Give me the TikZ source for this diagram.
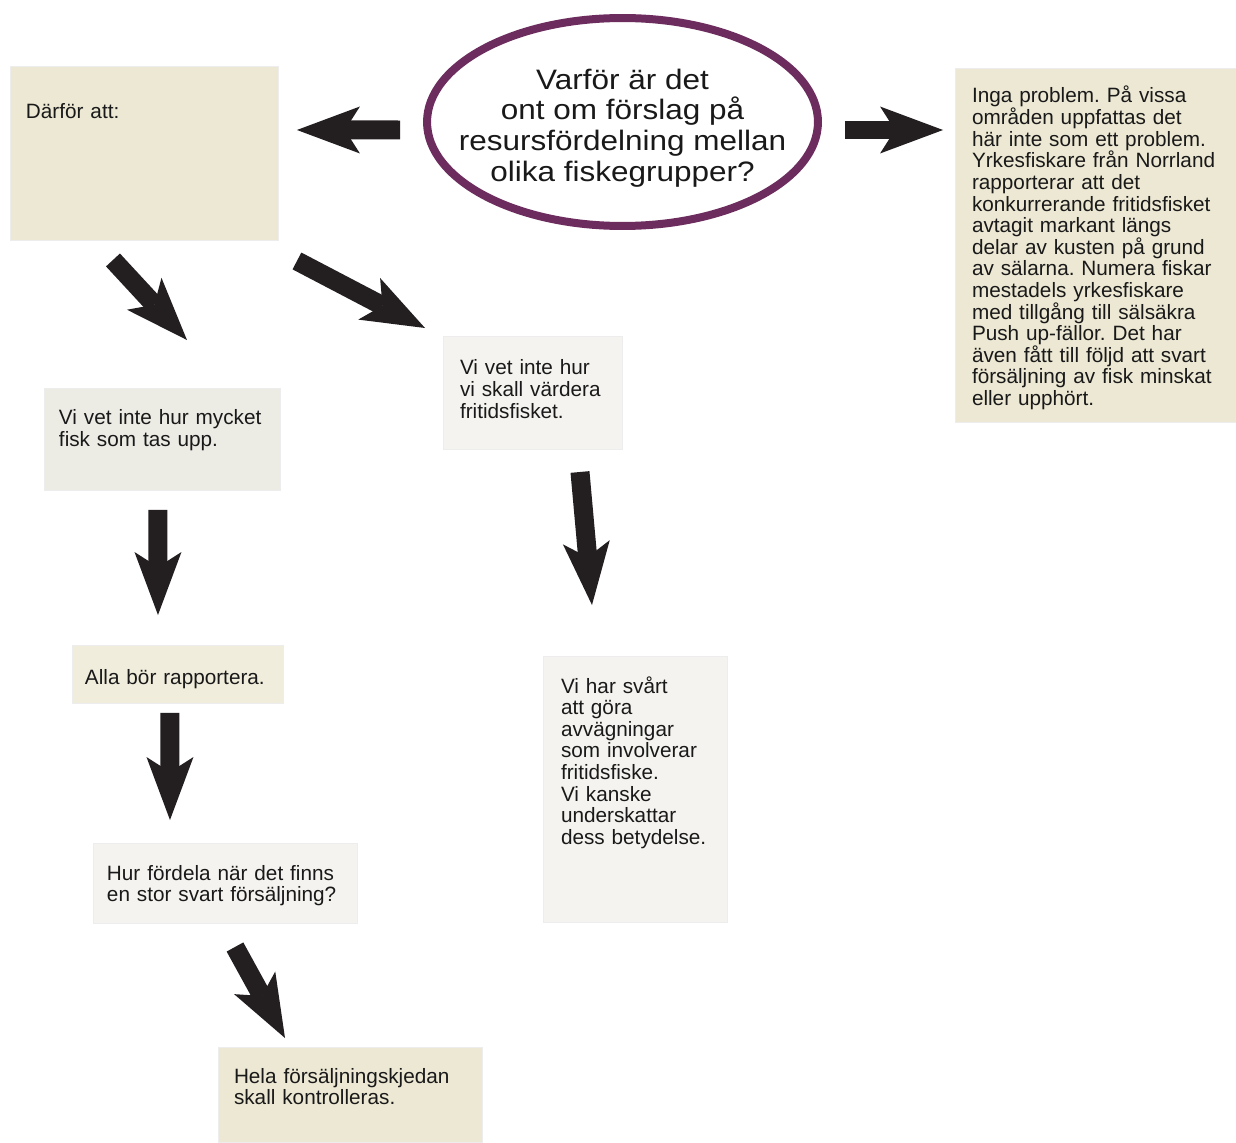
\documentclass[tikz,border=0pt]{standalone}
\usepackage{fontspec}
\setmainfont{Liberation Sans}
\newfontfamily\askfont[FakeStretch=1.12]{Liberation Sans}
\usetikzlibrary{calc,arrows.meta,shapes.geometric}
\definecolor{fiskInk}{RGB}{35,31,32}
\definecolor{fiskPlum}{RGB}{108,44,94}
\definecolor{fiskSand}{RGB}{236,232,211}
\definecolor{fiskSandLight}{RGB}{240,237,220}
\definecolor{fiskGrey}{RGB}{236,235,228}
\definecolor{fiskPale}{RGB}{244,243,239}
\frenchspacing

\begin{document}
\begin{tikzpicture}[x=0.02cm, y=-0.02cm,
  card/.style={anchor=north west, fill=#1, draw=black!7, line width=0.4pt, inner ysep=0pt, outer sep=0pt, align=left, text=black!90, font=\fontsize{11.8}{12.3}\selectfont},
  bigarrow/.style={draw=fiskInk, line width=0.38cm, -{Stealth[length=1.26cm, width=0.94cm, inset=0.3cm, line width=0pt, fill=fiskInk]}}]
\path[use as bounding box, fill=white] (0,0) rectangle (1236,1142);
\node[ellipse, draw=fiskPlum, line width=0.16cm, minimum width=7.82cm, minimum height=4.16cm, inner sep=0pt, outer sep=0pt] (fraga) at (622.5,122) {};
\node[align=center, text=black!90, font=\askfont\fontsize{16}{17.4}\selectfont] (fragetext) at ($(fraga.center)+(0,6)$) {Varför är det\\ ont om förslag på\\ resursfördelning mellan\\ olika fiskegrupper?};
\node[card=fiskSand, inner xsep=0.32cm, text width=4.72cm, text height=1.06cm, text depth=2.42cm] (darfor) at (10,66) {Därför att:};
\node[card=fiskSand, inner xsep=0.34cm, text width=4.94cm, text height=0.70cm, text depth=6.38cm] (norrland) at (955,68) {Inga problem. På vissa\\ områden uppfattas det\\ här inte som ett problem.\\ Yrkesfiskare från Norrland\\ rapporterar att det\\ konkurrerande fritidsfisket\\ avtagit markant längs\\ delar av kusten på grund\\ av sälarna. Numera fiskar\\ mestadels yrkesfiskare\\ med tillgång till sälsäkra\\ Push up-fällor. Det har\\ även fått till följd att svart\\ försäljning av fisk minskat\\ eller upphört.};
\node[card=fiskGrey, inner xsep=0.30cm, text width=4.12cm, text height=0.74cm, text depth=1.30cm] (mycket) at (44,388) {Vi vet inte hur mycket\\ fisk som tas upp.};
\node[card=fiskPale, inner xsep=0.34cm, text width=2.90cm, text height=0.78cm, text depth=1.48cm] (varde) at (443,336) {Vi vet inte hur\\ vi skall värdera\\ fritidsfisket.};
\node[card=fiskSandLight, inner xsep=0.26cm, text width=3.70cm, text height=0.78cm, text depth=0.38cm] (alla) at (72,645) {Alla bör rapportera.};
\node[card=fiskPale, inner xsep=0.36cm, text width=2.96cm, text height=0.74cm, text depth=4.58cm] (svart) at (543,656) {Vi har svårt\\ att göra\\ avvägningar\\ som involverar\\ fritidsfiske.\\ Vi kanske\\ underskattar\\ dess betydelse.};
\node[card=fiskPale, inner xsep=0.28cm, text width=4.72cm, text height=0.74cm, text depth=0.86cm] (hur) at (93,843) {Hur fördela när det finns\\ en stor svart försäljning?};
\node[card=fiskSand, inner xsep=0.32cm, text width=4.64cm, text height=0.72cm, text depth=1.18cm] (hela) at (218,1047) {Hela försäljningskjedan\\ skall kontrolleras.};
\draw[bigarrow] ($(fraga.west)+(-27,8)$) -- ($(darfor.east)+(19,-23)$);
\draw[bigarrow] ($(fraga.east)+(27,8)$) -- ($(norrland.north west)+(-12,62)$);
\draw[bigarrow] ($(darfor.south)+(-31,20)$) -- ($(mycket.north)+(25,-48)$);
\draw[bigarrow] ($(darfor.south east)+(19,21)$) -- ($(varde.north west)+(-18,-8)$);
\draw[bigarrow] ($(mycket.south)+(-4,20)$) -- ($(alla.north)+(-19.5,-30)$);
\draw[bigarrow] ($(alla.south)+(-7.5,10)$) -- ($(hur.north)+(-55,-23)$);
\draw[bigarrow] ($(varde.south)+(47.5,23)$) -- ($(svart.north)+(-43,-51)$);
\draw[bigarrow] ($(hur.south)+(10,24)$) -- ($(hela.north west)+(67,-9)$);
\end{tikzpicture}
\end{document}
